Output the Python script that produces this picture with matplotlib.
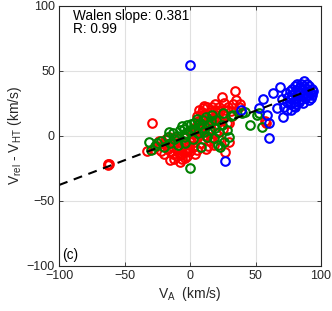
"""Walen test scatter: V_rel - V_HT against V_A, panel (c)."""

import matplotlib
matplotlib.use("Agg")
import matplotlib.pyplot as plt
import numpy as np

# red interval
red_va = [-63, -62, -62.5, -29, -33, -28, -25, -22, -20, -20, -18, -17, -15, -14, -13,
          -12, -11, -10, -10, -9, -8, -7, -6, -6, -5, -4, -3, -2, -1, 0, 0, 1, 2, 3, 3,
          4, 5, 5, 6, 7, 8, 8, 9, 10, 10, 11, 12, 13, 13, 14, 15, 15, 16, 17, 18, 18,
          19, 20, 20, 21, 22, 22, 23, 24, 25, 25, 27, 27, 28, 30, 30, 33, 34, 35, 37,
          38, 32, 58, 57, -24, -16, -3, 5, 12, 17, 26, 29, 14, -8, -12,
          9, 11, 16, 19, 23, 21, 6, 3, -1, -4, -7, -15, -18, 2, 7, 15, 31]
red_dv = [-22, -21.5, -23, 10, -12, -10, -8, -12, -6, -14, -3, -10, -19, -8, -14,
          -2, -6, -16, -11, -3, -20, -9, -14, -18, -5, -11, -1, -16, -7, -12, 3, -4,
          -9, 6, 1, -14, 15, -2, 8, 20, -6, 12, 3, 21, -3, 16, 7, 22, 0, 11, 18, -4, 5,
          22, 13, -7, 20, 8, 2, 17, 22, -3, 11, 30, 16, 5, -13, 20, 10, -5, 10, 24, 34,
          27, 22, 24, 15, 10, 11, -4, -1, -13, -11, -10, -2, 25, 22, -8, -15, -18,
          18, 23, 20, 24, 19, 14, 11, -8, -10, -17, -6, -12, -7, 2, 4, 9, 19]

# green interval
green_va = [-31, -30, -27, -25, -22, -20, -17, -16, -15, -13, -12, -10, -9, -8, -6,
            -5, -5, -4, -3, -2, 0, 0, 1, 2, 3, 4, 5, 6, 7, 8, 9, 10, 11, 12, 13, 14,
            15, 16, 17, 18, 19, 20, 21, 22, 23, 24, 25, 26, 28, 30, 31, 33, 40, 42, 46,
            51, 53, 55]
green_dv = [-5, -11, -8, -6, -4, -9, -1, 3, -6, 2, -3, 0, -7, 4, 7, -1, 5, -6, 2, 8,
            -25, 4, 9, -3, 10, 5, 13, 2, 9, -9, 6, 12, 3, 14, -1, 8, 4, 11, 16, -2, 6,
            12, -7, 3, -9, 8, 17, -5, 4, -1, 15, 16, 17, 18, 8, 15.5, 17, 6.5]

# blue interval
blue_va = [0, 27, 39, 53, 56, 59, 60, 60, 63, 66, 69, 71, 72, 74, 75, 76, 76, 77, 78,
           78, 79, 80, 80, 80, 81, 82, 82, 83, 83, 84, 84, 85, 85, 86, 86, 87, 87, 88,
           88, 89, 89, 90, 90, 91, 92, 92, 93, 93, 94, 74, 77, 79, 81, 70, 73, 86, 91]
blue_dv = [54, -19.5, 20, 21, 28.5, 16, -1.5, 9.5, 33, 21, 37.5, 14.5, 22, 26, 30, 34,
           24, 28, 36, 31, 26, 38, 33, 22, 29, 35, 40, 31, 26, 37, 33, 28, 40, 35, 31,
           42, 38, 33, 29, 36, 40, 31, 34, 38, 33, 29, 36, 31, 34, 20, 19.5, 23, 24, 28,
           33, 25, 27]

walen_slope = 0.381
walen_r = 0.99
fit_intercept = 0.1
fit_range = [-100, 95]

plt.rcParams["font.family"] = ["Liberation Sans", "DejaVu Sans"]
plt.rcParams["mathtext.fontset"] = "custom"
plt.rcParams["mathtext.rm"] = "Liberation Sans"

axis_gray = "#262626"

fig = plt.figure(figsize=(3.32, 3.11), dpi=100)
ax = fig.add_axes([0.178, 0.146, 0.789, 0.836])

marker_kw = dict(marker="o", linestyle="none", markerfacecolor="none",
                 markersize=6.2, markeredgewidth=1.5)
ax.plot(red_va, red_dv, markeredgecolor="#ff0000", **marker_kw)
ax.plot(green_va, green_dv, markeredgecolor="#008000", **marker_kw)
ax.plot(blue_va, blue_dv, markeredgecolor="#0000ff", **marker_kw)

fit_x = np.array(fit_range, dtype=float)
ax.plot(fit_x, walen_slope * fit_x + fit_intercept, color="black",
        linewidth=1.5, dashes=(4.3, 3.2))

ax.set_xlim(-100, 100)
ax.set_ylim(-100, 100)
ax.set_xticks([-100, -50, 0, 50, 100])
ax.set_yticks([-100, -50, 0, 50, 100])
ax.grid(True, color="#e0e0e0", linewidth=0.8)
ax.set_axisbelow(True)
ax.tick_params(direction="in", length=3, width=0.6, top=True, right=True,
               labelsize=9, colors=axis_gray, pad=3)
for spine in ax.spines.values():
    spine.set_color(axis_gray)
    spine.set_linewidth(0.8)

ax.set_xlabel(r"V$_\mathregular{A}$  (km/s)", fontsize=10, color=axis_gray, labelpad=2)
ax.set_ylabel(r"V$_\mathregular{rel}$ - V$_\mathregular{HT}$ (km/s)", fontsize=10,
              color=axis_gray, labelpad=2)

ax.text(-89.5, 97, f"Walen slope: {walen_slope}\nR: {walen_r}", fontsize=9.8,
        va="top", ha="left", linespacing=0.9, color="black")
ax.text(-97.5, -97, "(c)", fontsize=9.8, va="bottom", ha="left", color="black")

fig.savefig("out.png", dpi=100)
plt.close(fig)
